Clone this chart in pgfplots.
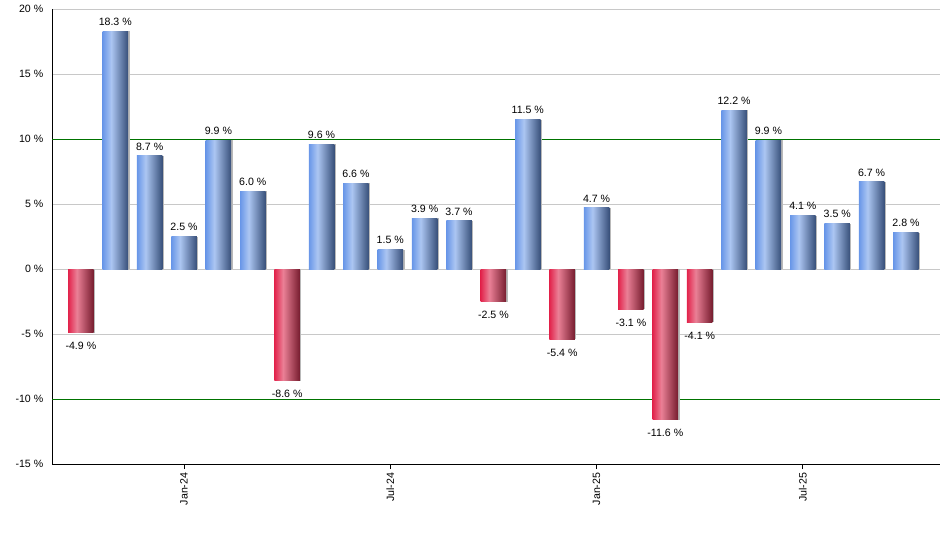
\documentclass[border=0pt]{standalone}
\usepackage{pgfplots}
\pgfplotsset{compat=1.18}
\usepackage{fontspec}
\setmainfont{Liberation Sans}

% bar colours
\definecolor{bl1}{RGB}{104,150,232}
\definecolor{bl2}{RGB}{172,198,242}
\definecolor{bl3}{RGB}{56,80,122}
\definecolor{rd1}{RGB}{226,36,76}
\definecolor{rd2}{RGB}{234,128,150}
\definecolor{rd3}{RGB}{118,28,46}
\definecolor{gridgray}{RGB}{200,200,200}
\definecolor{gridgreen}{RGB}{0,115,0}

\pgfdeclarehorizontalshading{bluebar}{100bp}{color(0bp)=(bl1); color(25bp)=(bl1); color(42bp)=(bl2); color(75bp)=(bl3); color(100bp)=(bl3)}
\pgfdeclarehorizontalshading{redbar}{100bp}{color(0bp)=(rd1); color(25bp)=(rd1); color(42bp)=(rd2); color(75bp)=(rd3); color(100bp)=(rd3)}

\pgfplotsset{
  shadowbar/.style={bar shift=1.5pt, fill=gray!55, draw=none, nodes near coords={}, forget plot},
  upbar/.style={bar shift=0pt, shading=bluebar, draw=none,
    every node near coord/.append style={yshift=2pt}},
  downbar/.style={bar shift=0pt, shading=redbar, draw=none,
    every node near coord/.append style={yshift=-6pt}},
}
% one \addplot per bar, so that each bar gets its own shading
\newcommand\monthbar[3]{%
  \addplot[shadowbar] coordinates {(#1,#2)};
  \addplot[#3] coordinates {(#1,#2)};
}

\begin{document}
\fontsize{10.6}{12}\selectfont
\begin{tikzpicture}
\path[use as bounding box] (-52pt,-86pt) rectangle (888pt,464pt);
\begin{axis}[
    at={(0,0)}, anchor=south west,
    scale only axis,
    width=888pt, height=455pt,
    xmin=0.16, xmax=25.99,
    ymin=-15, ymax=20,
    axis x line*=bottom, axis y line*=left,
    axis line style={-, black},
    ytick={-15,-5,0,5,15,20},
    yticklabels={-15 \%,-5 \%,0 \%,5 \%,15 \%,20 \%},
    ytick style={draw=none},
    ymajorgrids,
    y grid style={gridgray, line width=0.8pt},
    extra y ticks={-10,10},
    extra y tick labels={-10 \%,10 \%},
    extra y tick style={ymajorgrids=true, y grid style={draw=gridgreen, line width=0.8pt}},
    xtick={4,10,16,22},
    xticklabels={Jan-24,Jul-24,Jan-25,Jul-25},
    x tick label style={rotate=90, anchor=east},
    xtick style={black, line width=0.8pt},
    tick align=outside,
    major tick length=5pt,
    tick label style={font=\fontsize{10.6}{12}\selectfont},
    /pgf/number format/assume math mode=true,
    ybar, bar width=25.5pt,
    nodes near coords={\pgfmathprintnumber[fixed,fixed zerofill,precision=1]{\pgfplotspointmeta}~\%},
    every node near coord/.append style={font=\fontsize{10.6}{12}\selectfont, text=black},
]
\monthbar{1}{-4.9}{downbar}
\monthbar{2}{18.3}{upbar}
\monthbar{3}{8.7}{upbar}
\monthbar{4}{2.5}{upbar}
\monthbar{5}{9.9}{upbar}
\monthbar{6}{6.0}{upbar}
\monthbar{7}{-8.6}{downbar}
\monthbar{8}{9.6}{upbar}
\monthbar{9}{6.6}{upbar}
\monthbar{10}{1.5}{upbar}
\monthbar{11}{3.9}{upbar}
\monthbar{12}{3.7}{upbar}
\monthbar{13}{-2.5}{downbar}
\monthbar{14}{11.5}{upbar}
\monthbar{15}{-5.4}{downbar}
\monthbar{16}{4.7}{upbar}
\monthbar{17}{-3.1}{downbar}
\monthbar{18}{-11.6}{downbar}
\monthbar{19}{-4.1}{downbar}
\monthbar{20}{12.2}{upbar}
\monthbar{21}{9.9}{upbar}
\monthbar{22}{4.1}{upbar}
\monthbar{23}{3.5}{upbar}
\monthbar{24}{6.7}{upbar}
\monthbar{25}{2.8}{upbar}
\end{axis}
\end{tikzpicture}
\end{document}
